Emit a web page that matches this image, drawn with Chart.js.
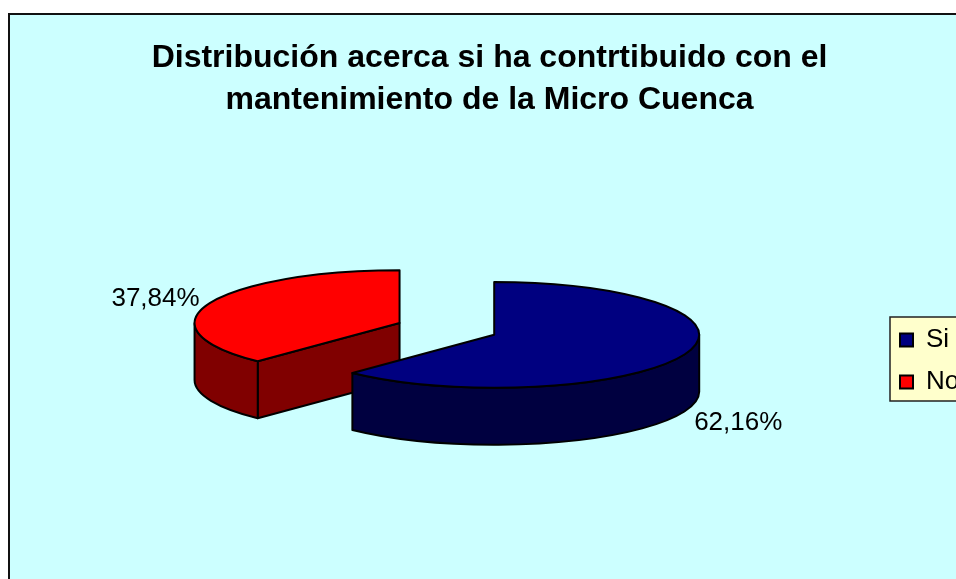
<!DOCTYPE html>
<html>
<head>
<meta charset="utf-8">
<title>Micro Cuenca</title>
<script src="https://cdn.jsdelivr.net/npm/chart.js@4"></script>
<style>
    html, body { margin: 0; height: 100%; background: #fff; overflow: hidden; }
    #marco { position: absolute; left: 8px; top: 13px; border: 2px solid #111; background: #CCFFFF; width: 960px; height: 600px; }
    canvas { display: block; }
</style>
</head>
<body>
<div id="marco"><canvas id="grafico" width="960" height="600"></canvas></div>
<script>
const categorias = ['Si', 'No'];
const valores = [62.16, 37.84];
const colores = ['#000080', '#FF0000'];
const coloresLado = ['#000040', '#800000'];
const titulo = ['Distribución acerca si ha contrtibuido con el', 'mantenimiento de la Micro Cuenca'];

const achatado = 0.258;   // ellipse height / width
const grosor = 57;        // depth of the pie wall
const separacion = 51;    // how far the slices are pulled apart
const fuente = 'Arial, "Liberation Sans", sans-serif';

// Squashed 3D slices, using the angles the pie controller worked out
const pastel3d = {
    id: 'pastel3d',
    beforeDraw(chart) {
        // legend background
        const ctx = chart.ctx;
        ctx.save();
        ctx.fillStyle = '#FFFFCC';
        ctx.strokeStyle = '#222';
        ctx.lineWidth = 1.5;
        ctx.fillRect(880, 302, 120, 84);
        ctx.strokeRect(880, 302, 120, 84);
        ctx.restore();
    },
    afterLayout(chart) {
        const l = chart.legend;
        l.left = 874; l.right = 1000;
        l.top = 296; l.bottom = 560;
        l.width = 126; l.height = 264;
    },
    beforeDatasetDraw(chart, args) {
        const ctx = chart.ctx;
        const arcos = args.meta.data;
        // red one goes behind
        [...arcos].reverse().forEach(arco => {
            const i = arcos.indexOf(arco);
            const a0 = arco.startAngle, a1 = arco.endAngle, medio = (a0 + a1) / 2;
            const rx = arco.outerRadius, ry = rx * achatado;
            const cx = arco.x + Math.cos(medio) * separacion;
            const cy = arco.y + Math.sin(medio) * separacion * 0.31;
            ctx.save();
            ctx.strokeStyle = '#000';
            ctx.lineWidth = 2;
            ctx.lineJoin = 'round';

            // flat cut walls
            ctx.fillStyle = coloresLado[i];
            [[a0, Math.cos(a0) < -0.001], [a1, Math.cos(a1) > 0.001]].forEach(([a, visible]) => {
                if (!visible) return;
                const px = cx + Math.cos(a) * rx, py = cy + Math.sin(a) * ry;
                ctx.beginPath();
                ctx.moveTo(cx, cy);
                ctx.lineTo(px, py);
                ctx.lineTo(px, py + grosor);
                ctx.lineTo(cx, cy + grosor);
                ctx.closePath();
                ctx.fill();
                ctx.stroke();
            });

            // curved outer wall, only the front half shows
            const desde = Math.max(a0, 0), hasta = Math.min(a1, Math.PI);
            if (hasta > desde) {
                ctx.beginPath();
                ctx.ellipse(cx, cy, rx, ry, 0, desde, hasta);
                ctx.ellipse(cx, cy + grosor, rx, ry, 0, hasta, desde, true);
                ctx.closePath();
                ctx.fill();
                ctx.stroke();
            }

            // top face
            ctx.fillStyle = colores[i];
            ctx.beginPath();
            ctx.moveTo(cx, cy);
            ctx.ellipse(cx, cy, rx, ry, 0, a0, a1);
            ctx.closePath();
            ctx.fill();
            ctx.stroke();

            // value label outside the slice
            const abajo = Math.sin(medio) > 0 ? grosor : 0;
            ctx.fillStyle = '#000';
            ctx.font = '26px ' + fuente;
            ctx.textAlign = 'center';
            ctx.textBaseline = 'middle';
            ctx.fillText(valores[i].toFixed(2).replace('.', ',') + '%',
                cx + Math.cos(medio) * (rx + 58),
                cy + Math.sin(medio) * (ry + 21) + abajo + 3);
            ctx.restore();
        });
        return false;
    }
};

new Chart(document.getElementById('grafico'), {
    type: 'pie',
    data: {
        labels: categorias,
        datasets: [{
            data: valores,
            backgroundColor: colores,
            borderColor: '#000',
            borderWidth: 2
        }]
    },
    options: {
        responsive: false,
        animation: false,
        events: [],
        radius: 205,
        layout: { padding: { top: 22, bottom: 88, right: 1 } },
        plugins: {
            tooltip: { enabled: false },
            title: {
                display: true,
                text: titulo,
                color: '#000',
                font: { family: fuente, size: 32, weight: 'bold', lineHeight: 1.31 },
                padding: { top: 0, bottom: 10 }
            },
            legend: {
                position: 'right',
                align: 'start',
                labels: {
                    color: '#000',
                    font: { family: fuente, size: 26 },
                    boxWidth: 13,
                    boxHeight: 13,
                    padding: 16
                }
            }
        }
    },
    plugins: [pastel3d]
});
</script>
</body>
</html>
